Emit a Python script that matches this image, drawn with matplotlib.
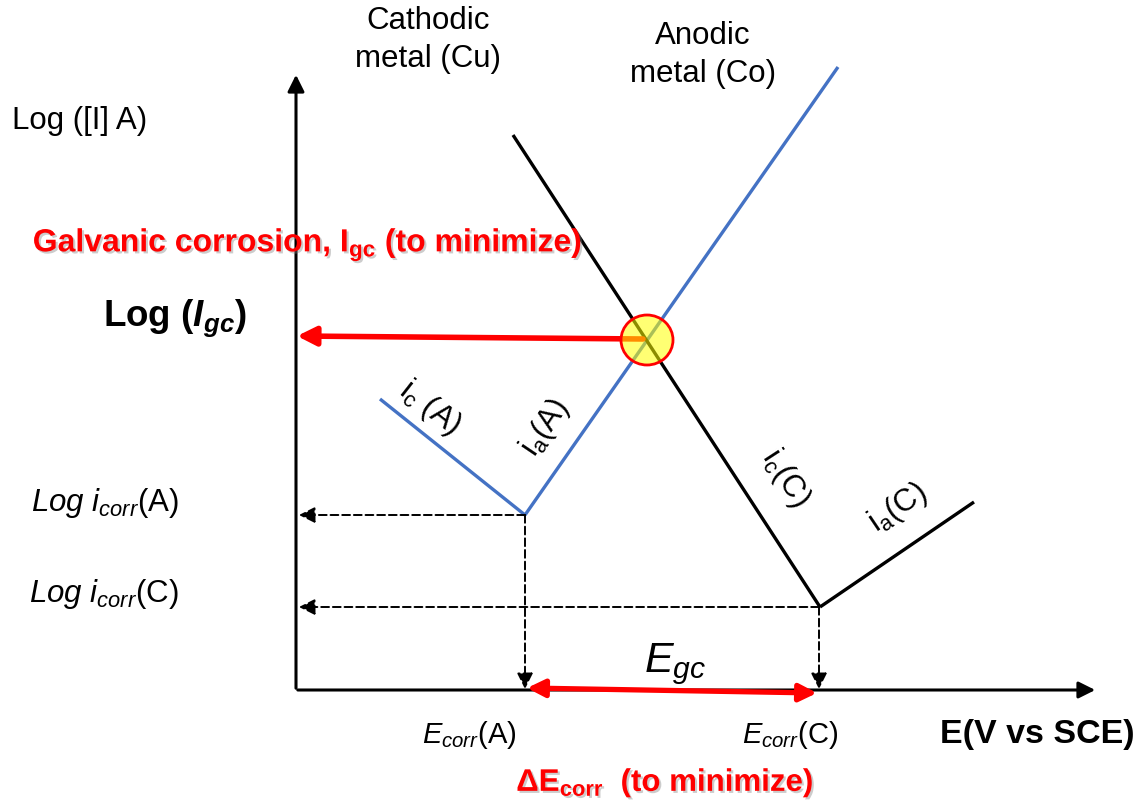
import matplotlib.pyplot as plt
import matplotlib.patheffects as pe
from matplotlib.patches import Ellipse

plt.rcParams['font.family'] = ['Liberation Sans', 'DejaVu Sans']
plt.rcParams['mathtext.fontset'] = 'custom'
plt.rcParams['mathtext.rm'] = 'Liberation Sans'
plt.rcParams['mathtext.it'] = 'Liberation Sans:italic'
plt.rcParams['mathtext.bf'] = 'Liberation Sans:bold'
plt.rcParams['mathtext.bfit'] = 'Liberation Sans:bold:italic'

# schematic Evans diagram, drawn in picture units (x right, y down)
axis_origin = (296, 690)
axis_ends = (1098, 72)          # x-axis tip, y-axis tip
anode_A_x = [525, 838]          # i_a(A), blue
anode_A_y = [515, 67]
cath_A_x = [380, 525]           # i_c(A), blue
cath_A_y = [399, 515]
cath_C_x = [513, 820]           # i_c(C), black
cath_C_y = [135, 607]
anode_C_x = [820, 974]          # i_a(C), black
anode_C_y = [607, 502]
ecorr = [525, 819]              # E_corr(A), E_corr(C)
icorr = [515, 607]              # log i_corr(A), log i_corr(C)
igc_point = (647, 340)
igc_level = 336

blue = '#4472C4'
red = '#FF0000'

fig = plt.figure(figsize=(11.4, 8.06), dpi=100)
ax = fig.add_axes([0, 0, 1, 1])
ax.set_xlim(0, 1140)
ax.set_ylim(806, 0)
ax.axis('off')

x0, y0 = axis_origin
# axes
ax.annotate('', xy=(axis_ends[0], y0), xytext=(x0 - 1, y0),
            arrowprops=dict(arrowstyle='-|>', color='black', lw=2.2, mutation_scale=25))
ax.annotate('', xy=(x0, axis_ends[1]), xytext=(x0, y0 + 1),
            arrowprops=dict(arrowstyle='-|>', color='black', lw=2.2, mutation_scale=25))

# polarisation lines
ax.plot(cath_A_x, cath_A_y, color=blue, lw=2.4, solid_capstyle='butt')
ax.plot(anode_A_x, anode_A_y, color=blue, lw=2.4, solid_capstyle='butt')
ax.plot(cath_C_x, cath_C_y, color='black', lw=2.4, solid_capstyle='butt')
ax.plot(anode_C_x, anode_C_y, color='black', lw=2.4, solid_capstyle='butt')

# dashed projections
dashed = dict(arrowstyle='-|>', color='black', lw=1.4, linestyle=(0, (4, 2)),
              mutation_scale=24, shrinkA=0, shrinkB=0)
for ex, iy in zip(ecorr, icorr):
    ax.annotate('', xy=(x0 + 3, iy), xytext=(ex, iy), arrowprops=dashed)
    ax.annotate('', xy=(ex, y0 - 1), xytext=(ex, iy), arrowprops=dashed)

# Egc double arrow
ax.annotate('', xy=(ecorr[1] - 2, y0 + 3), xytext=(ecorr[0] + 2, y0 - 2),
            arrowprops=dict(arrowstyle='<|-|>', color=red, lw=3.8, mutation_scale=26,
                            shrinkA=0, shrinkB=0))

# I_gc arrow
ax.annotate('', xy=(x0 + 1, igc_level), xytext=(igc_point[0] - 4, igc_point[1] - 1),
            arrowprops=dict(arrowstyle='-|>', color=red, lw=4, mutation_scale=28,
                            shrinkA=0, shrinkB=0))

ax.add_patch(Ellipse(igc_point, 52, 50, facecolor='#FFFF00', alpha=0.55, edgecolor='none', zorder=5))
ax.add_patch(Ellipse(igc_point, 52, 50, facecolor='none', edgecolor=red, lw=2, zorder=6))

shadow = [pe.withSimplePatchShadow(offset=(1.5, -1.5), shadow_rgbFace='grey', alpha=0.4)]

ax.text(80, 121, 'Log ([I] A)', fontsize=22.5, ha='center', va='center')
ax.text(428, 40, 'Cathodic\nmetal (Cu)', fontsize=22.5, ha='center', va='center', linespacing=1.35)
ax.text(703, 55, 'Anodic\nmetal (Co)', fontsize=22.5, ha='center', va='center', linespacing=1.35)
ax.text(308, 245, r'Galvanic corrosion, I$_{\mathbf{gc}}$ (to minimize)', fontsize=23,
        fontweight='bold', color=red, ha='center', va='center', path_effects=shadow)
ax.text(175, 318, r'Log ($\mathbfit{I_{gc}}$)', fontsize=26.5, fontweight='bold',
        ha='center', va='center')

ax.text(430, 408, r'i$_\mathrm{c}$ (A)', fontsize=22.5, rotation=-38, ha='center', va='center')
ax.text(545, 428, r'i$_\mathrm{a}$(A)', fontsize=22.5, rotation=56, ha='center', va='center')
ax.text(785, 478, r'i$_\mathrm{c}$(C)', fontsize=22.5, rotation=-57, ha='center', va='center')
ax.text(898, 508, r'i$_\mathrm{a}$(C)', fontsize=22.5, rotation=34, ha='center', va='center')

ax.text(105, 503, r'$Log\ i_{corr}$(A)', fontsize=22.5, ha='center', va='center')
ax.text(104, 594, r'$Log\ i_{corr}$(C)', fontsize=22.5, ha='center', va='center')

ax.text(675, 664, r'$E_{gc}$', fontsize=31, ha='center', va='center')
ax.text(469, 735, r'$E_{corr}$(A)', fontsize=21, ha='center', va='center')
ax.text(790, 735, r'$E_{corr}$(C)', fontsize=21, ha='center', va='center')
ax.text(1037, 735, 'E(V vs SCE)', fontsize=24.5, fontweight='bold', ha='center', va='center')
ax.text(665, 783, r'ΔE$_{\mathbf{corr}}$  (to minimize)', fontsize=22.5, fontweight='bold',
        color=red, ha='center', va='center', path_effects=shadow)

fig.savefig('out.png', dpi=100)
